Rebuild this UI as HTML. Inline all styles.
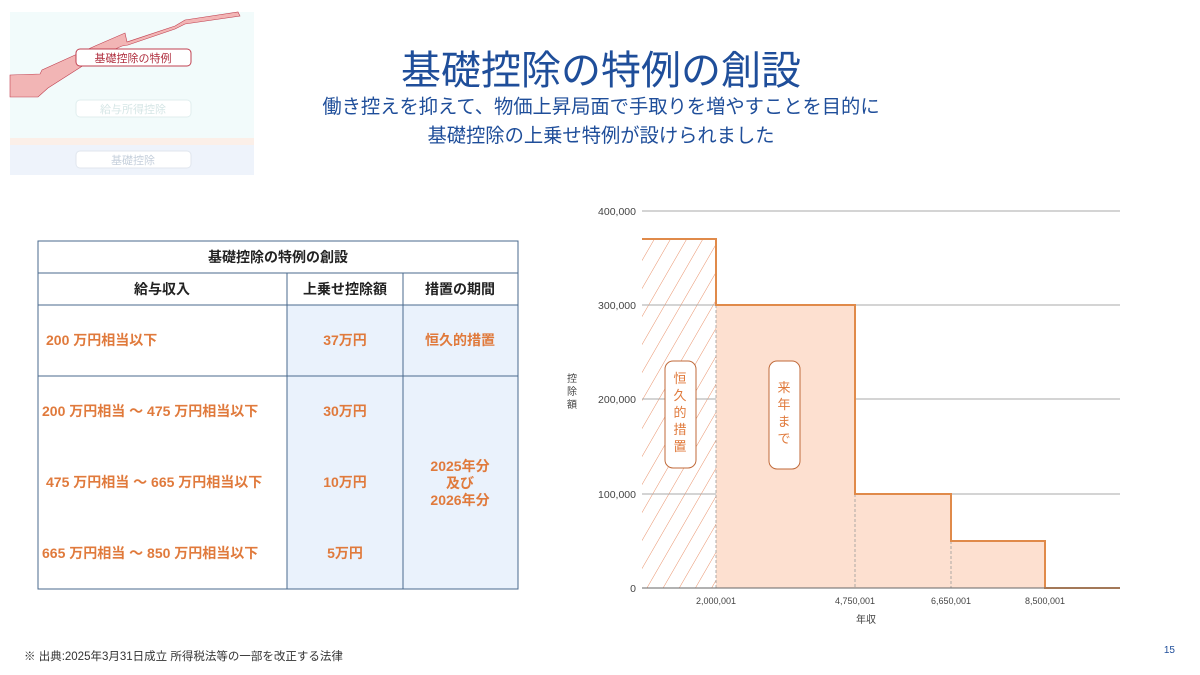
<!DOCTYPE html>
<html><head><meta charset="utf-8"><style>
html,body{margin:0;padding:0;background:#fff;}
svg{display:block;font-family:"Liberation Sans","Noto Sans CJK JP",sans-serif;}
</style></head><body>
<svg width="1200" height="675" viewBox="0 0 1200 675" xmlns="http://www.w3.org/2000/svg">
<defs>
<pattern id="h" patternUnits="userSpaceOnUse" width="14" height="14" patternTransform="rotate(30)">
<line x1="0" y1="0" x2="0" y2="14" stroke="#e9916a" stroke-width="1"/>
</pattern>
</defs>
<!-- thumbnail -->
<rect x="10" y="12" width="244" height="163" fill="#f2fbfb"/>
<rect x="10" y="138" width="244" height="7" fill="#fbefe8"/>
<rect x="10" y="145" width="244" height="30" fill="#eef3fb"/>
<polygon points="10,75 40,74 42,70 95,46 125,33 127,42 175,26 185,20 238,12 240,16 185,24 175,29 128,45 122,46 95,58 48,88 38,97 10,97" fill="#f2b5b5" stroke="#c04050" stroke-width="0.6"/>
<rect x="76" y="49" width="115" height="17" rx="4" fill="#fff" stroke="#c04050"/>
<text x="133" y="62" font-size="11" fill="#b03040" text-anchor="middle">基礎控除の特例</text>
<rect x="76" y="100" width="115" height="17" rx="4" fill="#fff" stroke="#e0eeee"/>
<text x="133" y="113" font-size="11" fill="#d6e6e6" text-anchor="middle">給与所得控除</text>
<rect x="76" y="151" width="115" height="17" rx="4" fill="#fff" stroke="#e0e6ee"/>
<text x="133" y="164" font-size="11" fill="#c6d0dc" text-anchor="middle">基礎控除</text>
<!-- title -->
<text x="601" y="84" font-size="40" fill="#1f4e9a" text-anchor="middle">基礎控除の特例の創設</text>
<text x="601" y="113" font-size="19.3" fill="#1f4e9a" text-anchor="middle">働き控えを抑えて、物価上昇局面で手取りを増やすことを目的に</text>
<text x="601" y="142" font-size="19.3" fill="#1f4e9a" text-anchor="middle">基礎控除の上乗せ特例が設けられました</text>
<!-- table -->
<rect x="287" y="305" width="231" height="284" fill="#eaf2fc"/>
<g stroke="#4a6a8e" stroke-width="1" fill="none">
<rect x="38" y="241" width="480" height="348"/>
<line x1="38" y1="273" x2="518" y2="273"/>
<line x1="38" y1="305" x2="518" y2="305"/>
<line x1="38" y1="376" x2="518" y2="376"/>
<line x1="287" y1="273" x2="287" y2="589"/>
<line x1="403" y1="273" x2="403" y2="589"/>
</g>
<g font-size="14" fill="#222" text-anchor="middle" font-weight="bold">
<text x="278" y="262">基礎控除の特例の創設</text>
<text x="162" y="294">給与収入</text>
<text x="345" y="294">上乗せ控除額</text>
<text x="460" y="294">措置の期間</text>
</g>
<g font-size="14" fill="#e07a3c" font-weight="bold">
<text x="46" y="345">200 万円相当以下</text>
<text x="42" y="416">200 万円相当 ～ 475 万円相当以下</text>
<text x="46" y="487">475 万円相当 ～ 665 万円相当以下</text>
<text x="42" y="558">665 万円相当 ～ 850 万円相当以下</text>
<g text-anchor="middle">
<text x="345" y="345">37万円</text>
<text x="345" y="416">30万円</text>
<text x="345" y="487">10万円</text>
<text x="345" y="558">5万円</text>
<text x="460" y="345">恒久的措置</text>
<text x="460" y="471">2025年分</text>
<text x="460" y="488">及び</text>
<text x="460" y="505">2026年分</text>
</g></g>
<!-- chart -->
<rect x="642" y="239" width="74" height="349" fill="url(#h)"/>
<g stroke="#aaa" stroke-width="1">
<line x1="642" y1="211" x2="1120" y2="211"/>
<line x1="642" y1="305" x2="1120" y2="305"/>
<line x1="642" y1="399" x2="1120" y2="399"/>
<line x1="642" y1="494" x2="1120" y2="494"/>
</g>
<polygon points="716,588 716,305 855,305 855,494 951,494 951,541 1045,541 1045,588" fill="#fde0d0"/>
<g stroke="#999" stroke-width="0.8" stroke-dasharray="3,2">
<line x1="716" y1="305" x2="716" y2="588"/>
<line x1="855" y1="494" x2="855" y2="588"/>
<line x1="951" y1="541" x2="951" y2="588"/>
</g>
<polyline points="642,239 716,239 716,305 855,305 855,494 951,494 951,541 1045,541 1045,588 1120,588" fill="none" stroke="#e08a4a" stroke-width="2"/>
<line x1="642" y1="588" x2="1120" y2="588" stroke="#666" stroke-width="1"/>
<g font-size="10.5" fill="#444" text-anchor="end">
<text x="636" y="215">400,000</text>
<text x="636" y="309">300,000</text>
<text x="636" y="403">200,000</text>
<text x="636" y="498">100,000</text>
<text x="636" y="592">0</text>
</g>
<g font-size="9" fill="#444" text-anchor="middle">
<text x="716" y="604">2,000,001</text>
<text x="855" y="604">4,750,001</text>
<text x="951" y="604">6,650,001</text>
<text x="1045" y="604">8,500,001</text>
<text x="866" y="623" font-size="10">年収</text>
<text x="572" y="382" font-size="10">控</text>
<text x="572" y="395" font-size="10">除</text>
<text x="572" y="408" font-size="10">額</text>
</g>
<rect x="665" y="361" width="31" height="107" rx="8" fill="#fff" stroke="#c06a3a"/>
<rect x="769" y="361" width="31" height="108" rx="8" fill="#fff" stroke="#c06a3a"/>
<g font-size="13" fill="#e07a3c" text-anchor="middle">
<text x="680" y="383">恒</text><text x="680" y="400">久</text><text x="680" y="417">的</text><text x="680" y="434">措</text><text x="680" y="451">置</text>
<text x="784" y="392">来</text><text x="784" y="409">年</text><text x="784" y="426">ま</text><text x="784" y="443">で</text>
</g>
<!-- footer -->
<text x="24" y="660" font-size="11.5" fill="#333">※  出典:2025年3月31日成立 所得税法等の一部を改正する法律</text>
<text x="1175" y="653" font-size="10" fill="#1f4e9a" text-anchor="end">15</text>
</svg>
</body></html>
